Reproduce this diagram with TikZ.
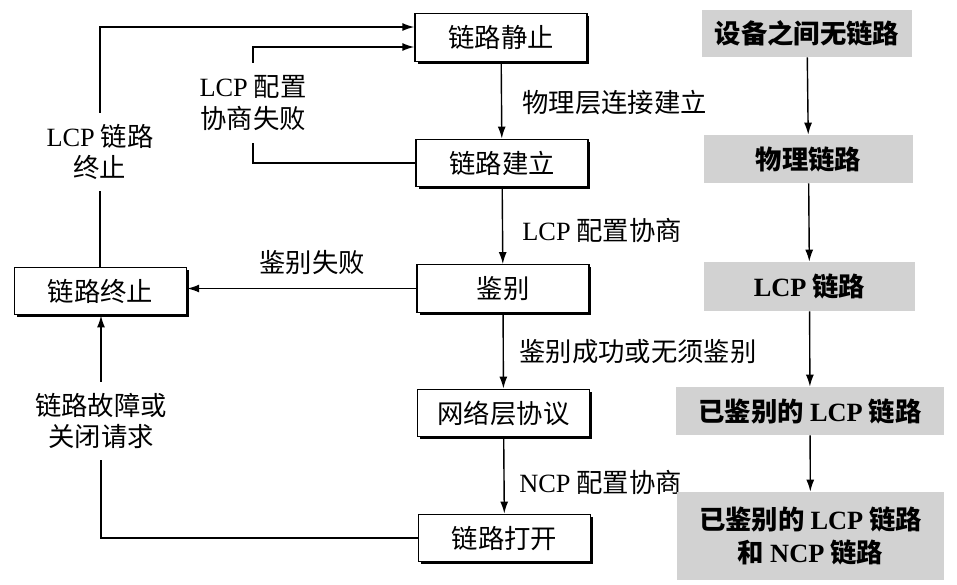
\documentclass[tikz,border=0pt]{standalone}
\usepackage{fontspec}
\setmainfont{Liberation Serif}
\newfontfamily\cjk{Noto Sans CJK SC}
\usetikzlibrary{arrows.meta,shadows}
\newcommand{\la}[1]{{\rmfamily #1}}
\tikzset{
  stbox/.style={draw, line width=0.8pt, fill=white, minimum width=3.44cm, minimum height=0.95cm, inner sep=0pt,
    drop shadow={shadow xshift=0.05cm, shadow yshift=-0.05cm, fill=black, opacity=1}},
  gbox/.style={fill=gray!35, inner sep=0pt, align=center, font=\cjk\bfseries\fontsize{15}{19}\selectfont},
  lbl/.style={inner sep=1pt, align=center},
  arr/.style={-{Latex[length=2.4mm,width=1.6mm]}, line width=0.8pt},
  ln/.style={line width=0.8pt}
}
\begin{document}
\begin{tikzpicture}[x=0.02cm, y=-0.02cm, font=\cjk\fontsize{15}{18}\selectfont]
\useasboundingbox (0,0) rectangle (957,585);
% left state boxes
\node[stbox] (jz) at (501,37.5) {链路静止};
\node[stbox] (jl) at (502,163) {链路建立};
\node[stbox] (jb) at (503,288.5) {鉴别};
\node[stbox] (wl) at (503.5,413) {网络层协议};
\node[stbox] (dk) at (504.5,538) {链路打开};
\node[stbox] (zz) at (100.5,291) {链路终止};
% main vertical arrows
\draw[arr] (jz) -- (jl);
\draw[arr] (jl) -- (jb);
\draw[arr] (jb) -- (wl);
\draw[arr] (wl) -- (dk);
\node[anchor=west, inner sep=0pt] (t1) at (522,103) {物理层连接建立};
\node[anchor=west, inner sep=0pt] (t2) at (522,230) {\la{LCP} 配置协商};
\node[anchor=west, inner sep=0pt] (t3) at (519,352) {鉴别成功或无须鉴别};
\node[anchor=west, inner sep=0pt] (t4) at (519,482) {\la{NCP} 配置协商};
% authentication failure
\draw[arr] (jb.west) -- (zz.east |- jb.west);
\node[inner sep=0pt] (t5) at (312,263) {鉴别失败};
% LCP link termination loop
\coordinate (c1) at ([yshift=0.21cm]jz.west);
\coordinate (c2) at ([yshift=-0.19cm]jz.west);
\node[lbl, minimum height=1.56cm] (l1) at (100,152) {\la{LCP} 链路\\终止};
\draw[ln] (zz.north -| l1) -- (l1);
\draw[arr] (l1) |- (c1);
% LCP config failure loop
\node[lbl, minimum height=1.6cm] (l2) at (253,103) {\la{LCP} 配置\\协商失败};
\draw[ln] (jl.west) -| (l2);
\draw[arr] (l2) |- (c2);
% link failure loop
\node[lbl, minimum height=1.56cm] (l3) at (101,421) {链路故障或\\关闭请求};
\draw[ln] (dk.west) -| (l3);
\draw[arr] (l3) -- (l3 |- zz.south);
% right column
\node[gbox, minimum width=4.2cm, minimum height=0.94cm] (r1) at (807,33.5) {设备之间无链路};
\node[gbox, minimum width=4.18cm, minimum height=0.96cm] (r2) at (808.5,159) {物理链路};
\node[gbox, minimum width=4.22cm, minimum height=0.98cm] (r3) at (809.5,286.5) {\la{LCP} 链路};
\node[gbox, minimum width=5.36cm, minimum height=0.96cm] (r4) at (810,411) {已鉴别的 \la{LCP} 链路};
\node[gbox, minimum width=5.34cm, minimum height=1.76cm] (r5) at (810.5,536) {已鉴别的 \la{LCP} 链路\\和 \la{NCP} 链路};
\draw[arr] (r1) -- (r2);
\draw[arr] (r2) -- (r3);
\draw[arr] (r3) -- (r4);
\draw[arr] (r4) -- (r5);
\end{tikzpicture}
\end{document}
